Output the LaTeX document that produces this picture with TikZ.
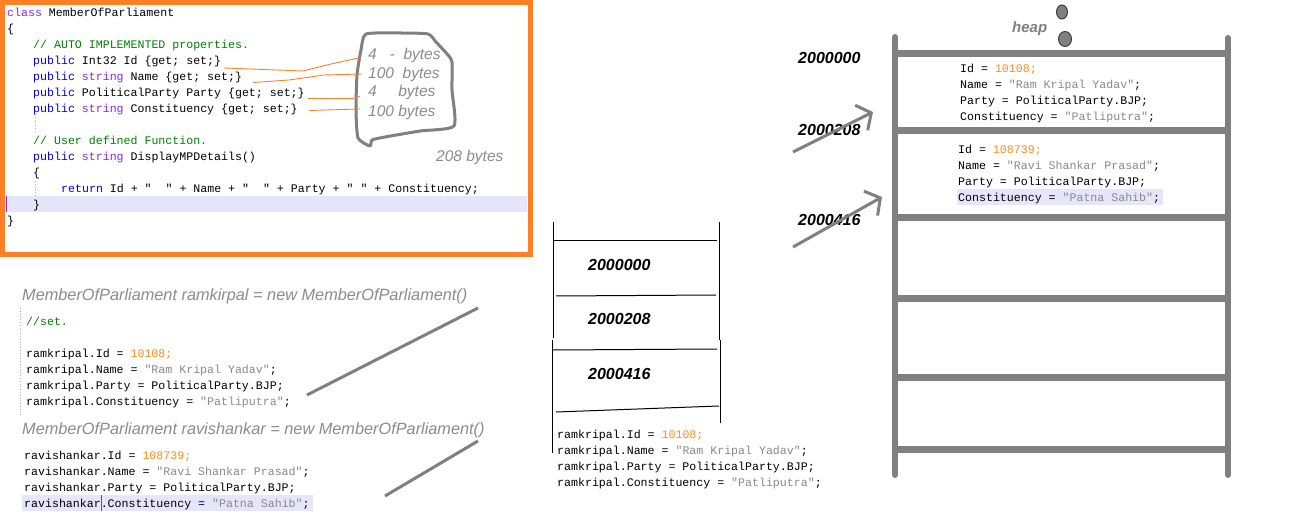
\documentclass[tikz,border=0pt]{standalone}
\usepackage{fontspec}
\setmainfont{Liberation Sans}
\newfontfamily\codefont{Liberation Mono}
\usetikzlibrary{arrows.meta,shapes.geometric}

\definecolor{boxorange}{HTML}{FF7F27}
\definecolor{kwblue}{HTML}{0000F0}
\definecolor{kwviolet}{HTML}{8A2BE2}
\definecolor{cmtgreen}{HTML}{008000}
\definecolor{numorange}{HTML}{FF8C1A}
\definecolor{strgray}{HTML}{8A8A8A}
\definecolor{notegray}{HTML}{8C8C8C}
\definecolor{laddergray}{HTML}{808080}
\definecolor{hilite}{HTML}{E6E6FA}

\newcommand{\kw}[1]{\textcolor{kwblue}{#1}}
\newcommand{\ty}[1]{\textcolor{kwviolet}{#1}}
\newcommand{\cmt}[1]{\textcolor{cmtgreen}{#1}}
\newcommand{\numlit}[1]{\textcolor{numorange}{#1}}
\newcommand{\strlit}[1]{\textcolor{strgray}{#1}}

\tikzset{
  code/.style={font=\codefont\fontsize{11.6}{14}\selectfont, anchor=base west, inner sep=0pt},
  note/.style={font=\itshape\fontsize{15.5}{18}\selectfont, text=notegray, anchor=base west, inner sep=0pt},
  heading/.style={font=\itshape\fontsize{16.3}{19}\selectfont, text=notegray, anchor=base west, inner sep=0pt},
  addr/.style={font=\bfseries\itshape\fontsize{16}{19}\selectfont, anchor=base west, inner sep=0pt},
  rung/.style={laddergray, line width=7pt},
  rail/.style={laddergray, line width=6pt, line cap=round},
  stackline/.style={black, line width=1pt},
  slash/.style={laddergray, line width=3pt},
  ptr/.style={laddergray, line width=3pt, -{Straight Barb[length=11pt,width=28pt]}},
  link/.style={boxorange, line width=0.9pt},
  guide/.style={black!30, line width=0.8pt, dotted},
  dot/.style={ellipse, draw=black!75, fill=laddergray, line width=1pt, minimum width=11pt, minimum height=14pt, inner sep=0pt},
}

\begin{document}
\begin{tikzpicture}[x=1pt,y=-1pt]
\fill[white] (0,0) rectangle (1312,529);
\useasboundingbox (0,0) rectangle (1312,529);

% class definition
\fill[hilite] (5,196) rectangle (527,212);
\draw[kwviolet, line width=1pt] (6,196) -- (6,212);
\draw[guide] (35,114) -- (35,132);
\draw[guide] (35,181) -- (35,196);
\node[code] at (7,16.5) (c0) {\ty{class} MemberOfParliament};
\node[code] at (7,32.5) (c1) {\{};
\node[code] at (33,48.5) (c2) {\cmt{// AUTO IMPLEMENTED properties.}};
\node[code] at (33,64.5) (c3) {\kw{public} Int32 Id \{get; set;\}};
\node[code] at (33,80.5) (c4) {\kw{public} \ty{string} Name \{get; set;\}};
\node[code] at (33,96.5) (c5) {\kw{public} PoliticalParty Party \{get; set;\}};
\node[code] at (33,112.5) (c6) {\kw{public} \ty{string} Constituency \{get; set;\}};
\node[code] at (33,144.5) (c8) {\cmt{// User defined Function.}};
\node[code] at (33,160.5) (c9) {\kw{public} \ty{string} DisplayMPDetails()};
\node[code] at (33,176.5) (c10) {\{};
\node[code] at (61,192.5) (c11) {\kw{return} Id + "\ \ " + Name + "\ \ " + Party + " " + Constituency;};
\node[code] at (33,208.5) (c12) {\}};
\node[code] at (7,224.5) (c13) {\}};
\draw[boxorange, line width=5pt] (2.5,2.5) rectangle (530,254.5);

% sizes
\draw[laddergray, line width=3pt, line join=round]
  plot[smooth cycle, tension=0.35] coordinates {(366,34) (400,33) (428,34) (436,42) (448,55) (452,62) (452,90) (454,126) (420,131) (385,137) (372,140) (370,146) (358,138) (356,110) (357,75) (361,50)};
\node[note] at (368,59.5) (b1) {4\ \ \ -\ \ bytes};
\node[note] at (368,78.5) (b2) {100\ \ bytes};
\node[note] at (368,97) (b3) {4\ \ \ \ \ bytes};
\node[note] at (368,116.5) (b4) {100 bytes};
\node[note] at (436,162) (total) {208 bytes};
\coordinate (l1) at (224,68);
\coordinate (l2) at (253,82.5);
\coordinate (l3) at (308,98.5);
\coordinate (l4) at (309,110.5);
\coordinate (n1) at (361,57.5);
\coordinate (n2) at (362,74);
\coordinate (n3) at (360,96.5);
\coordinate (n4) at (360,109);
\draw[link] (l1) -- (303,71) -- (331,64) -- (n1);
\draw[link] (l2) -- (289,80) -- (324,75) -- (n2);
\draw[link] (l3) -- (352,98.5) -- (n3);
\draw[link] (l4) -- (n4);

% objects
\draw[guide] (20,308) -- (20,416);
\node[heading] at (22,301) (h1) {MemberOfParliament ramkirpal = new MemberOfParliament()};
\node[code] at (26,326) (s0) {\cmt{//set.}};
\node[code] at (26,357) (r1) {ramkripal.Id = \numlit{10108;}};
\node[code] at (26,373) (r2) {ramkripal.Name = \strlit{"Ram Kripal Yadav"};};
\node[code] at (26,389) (r3) {ramkripal.Party = PoliticalParty.BJP;};
\node[code] at (26,405) (r4) {ramkripal.Constituency = \strlit{"Patliputra"};};
\node[heading] at (22,434) (h2) {MemberOfParliament ravishankar = new MemberOfParliament()};
\fill[hilite] (22,495) rectangle (313,511);
\draw[kwviolet, line width=1pt] (101,495) -- (101,511);
\node[code] at (24,459) (v1) {ravishankar.Id = \numlit{108739;}};
\node[code] at (24,475) (v2) {ravishankar.Name = \strlit{"Ravi Shankar Prasad"};};
\node[code] at (24,491) (v3) {ravishankar.Party = PoliticalParty.BJP;};
\node[code] at (24,507) (v4) {ravishankar.Constituency = \strlit{"Patna Sahib"};};
\coordinate (k1) at (478,308);
\coordinate (k2) at (478,441);
\draw[slash] (307,395) -- (k1);
\draw[slash] (385,496) -- (k2);

% stack
\draw[stackline] (553,222) -- (553,338);
\draw[stackline] (552,340) -- (552,453);
\draw[stackline] (719,222) -- (719,340);
\draw[stackline] (720,340) -- (720,423);
\draw[stackline] (553,241) -- (717,241);
\draw[stackline] (556,296) -- (716,295);
\draw[stackline] (553,350) -- (717,349);
\draw[stackline] (556,412) -- (719,406);
\node[addr] at (588,271) (s1) {2000000};
\node[addr] at (588,325) (s2) {2000208};
\node[addr] at (588,379) (s3) {2000416};
\node[code] at (557,438) (m1) {ramkripal.Id = \numlit{10108;}};
\node[code] at (557,454) (m2) {ramkripal.Name = \strlit{"Ram Kripal Yadav"};};
\node[code] at (557,470) (m3) {ramkripal.Party = PoliticalParty.BJP;};
\node[code] at (557,486) (m4) {ramkripal.Constituency = \strlit{"Patliputra"};};

% heap
\fill[hilite] (957,189) rectangle (1163,205);
\draw[rail] (895,37) -- (895,475);
\draw[rail] (1228,38) -- (1228,475);
\foreach \ry in {54,131,218,299,377,449}
  \draw[rung] (895,\ry) -- (1228,\ry);
\node[font=\bfseries\itshape\fontsize{15}{18}\selectfont, text=laddergray, anchor=base west, inner sep=0pt] at (1012,32.5) (heap) {heap};
\node[dot] at (1062,12) (dotA) {};
\node[dot, minimum width=13pt, minimum height=15pt] at (1065,39) (dotB) {};
\node[code] at (960,72.5) (p1) {Id = \numlit{10108;}};
\node[code] at (960,88.5) (p2) {Name = \strlit{"Ram Kripal Yadav"};};
\node[code] at (960,104.5) (p3) {Party = PoliticalParty.BJP;};
\node[code] at (960,120.5) (p4) {Constituency = \strlit{"Patliputra"};};
\node[code] at (958,154) (q1) {Id = \numlit{108739;}};
\node[code] at (958,170) (q2) {Name = \strlit{"Ravi Shankar Prasad"};};
\node[code] at (958,186) (q3) {Party = PoliticalParty.BJP;};
\node[code] at (958,202) (q4) {Constituency = \strlit{"Patna Sahib"};};
\node[addr] at (798,64) (a1) {2000000};
\node[addr] at (798,136) (a2) {2000208};
\node[addr] at (798,226) (a3) {2000416};
\coordinate (t2) at (793,152);
\coordinate (t3) at (793,247);
\coordinate (e2) at (873,112);
\coordinate (e3) at (882,197);
\draw[ptr] (t2) -- (e2);
\draw[ptr] (t3) -- (e3);
\end{tikzpicture}
\end{document}
